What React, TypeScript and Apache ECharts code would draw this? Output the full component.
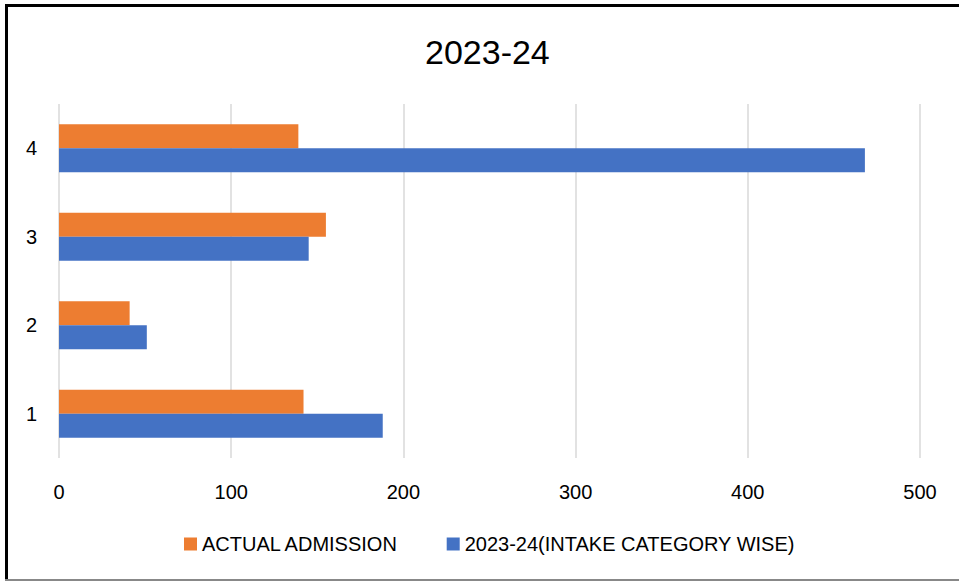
import React, { useEffect, useRef } from "react";
import * as echarts from "echarts";

const categories = ["1", "2", "3", "4"];
const actualAdmission = [142, 41, 155, 139];
const intakeCategoryWise = [188, 51, 145, 468];
const xTicks = [0, 100, 200, 300, 400, 500];
const seriesNames = ["ACTUAL ADMISSION", "2023-24(INTAKE CATEGORY WISE)"];
const titleText = "2023-24";

const FONT = "'Liberation Sans', Arial, sans-serif";

export default function App() {
  const ref = useRef<HTMLDivElement>(null);
  useEffect(() => {
    if (!ref.current) return;
    const chart = echarts.init(ref.current, undefined, { renderer: "svg" });
    chart.setOption({
      animation: false,
      backgroundColor: "#ffffff",
      textStyle: { fontFamily: FONT },
      title: {
        text: titleText,
        left: 420,
        top: 30,
        textStyle: { fontFamily: FONT, fontSize: 34, fontWeight: "normal", color: "#000" },
      },
      legend: {
        data: seriesNames,
        bottom: 22,
        left: 179,
        itemWidth: 13,
        itemHeight: 13,
        itemGap: 48,
        icon: "rect",
        textStyle: { fontFamily: FONT, fontSize: 20, color: "#000", padding: [0, 0, 0, 0] },
      },
      grid: { left: 59, right: 39, top: 104, bottom: 123, containLabel: false },
      xAxis: {
        type: "value",
        min: xTicks[0],
        max: xTicks[xTicks.length - 1],
        interval: 100,
        axisLine: { show: false },
        axisTick: { show: false },
        splitLine: { show: true, lineStyle: { color: "#d9d9d9", width: 1.5 } },
        axisLabel: { fontFamily: FONT, fontSize: 20, color: "#000", margin: 24 },
      },
      yAxis: {
        type: "category",
        data: categories,
        axisLine: { show: false },
        axisTick: { show: false },
        splitLine: { show: false },
        axisLabel: { fontFamily: FONT, fontSize: 20, color: "#000", margin: 22 },
      },
      series: [
        {
          name: seriesNames[0],
          type: "bar",
          data: actualAdmission,
          barWidth: 24,
          barGap: "0%",
          itemStyle: { color: "#ED7D31" },
        },
        {
          name: seriesNames[1],
          type: "bar",
          data: intakeCategoryWise,
          barWidth: 24,
          barGap: "0%",
          itemStyle: { color: "#4472C4" },
        },
      ],
      graphic: [
        { type: "rect", shape: { x: 5, y: 4, width: 960, height: 3 }, style: { fill: "#000" }, silent: true },
        { type: "rect", shape: { x: 5, y: 4, width: 3, height: 580 }, style: { fill: "#000" }, silent: true },
        { type: "rect", shape: { x: 5, y: 579, width: 960, height: 2 }, style: { fill: "#888" }, silent: true },
      ],
    });
    return () => chart.dispose();
  }, []);
  return (
    <div
      ref={ref}
      style={{ position: "fixed", left: 0, top: 0, width: 959, height: 581 }}
    />
  );
}
